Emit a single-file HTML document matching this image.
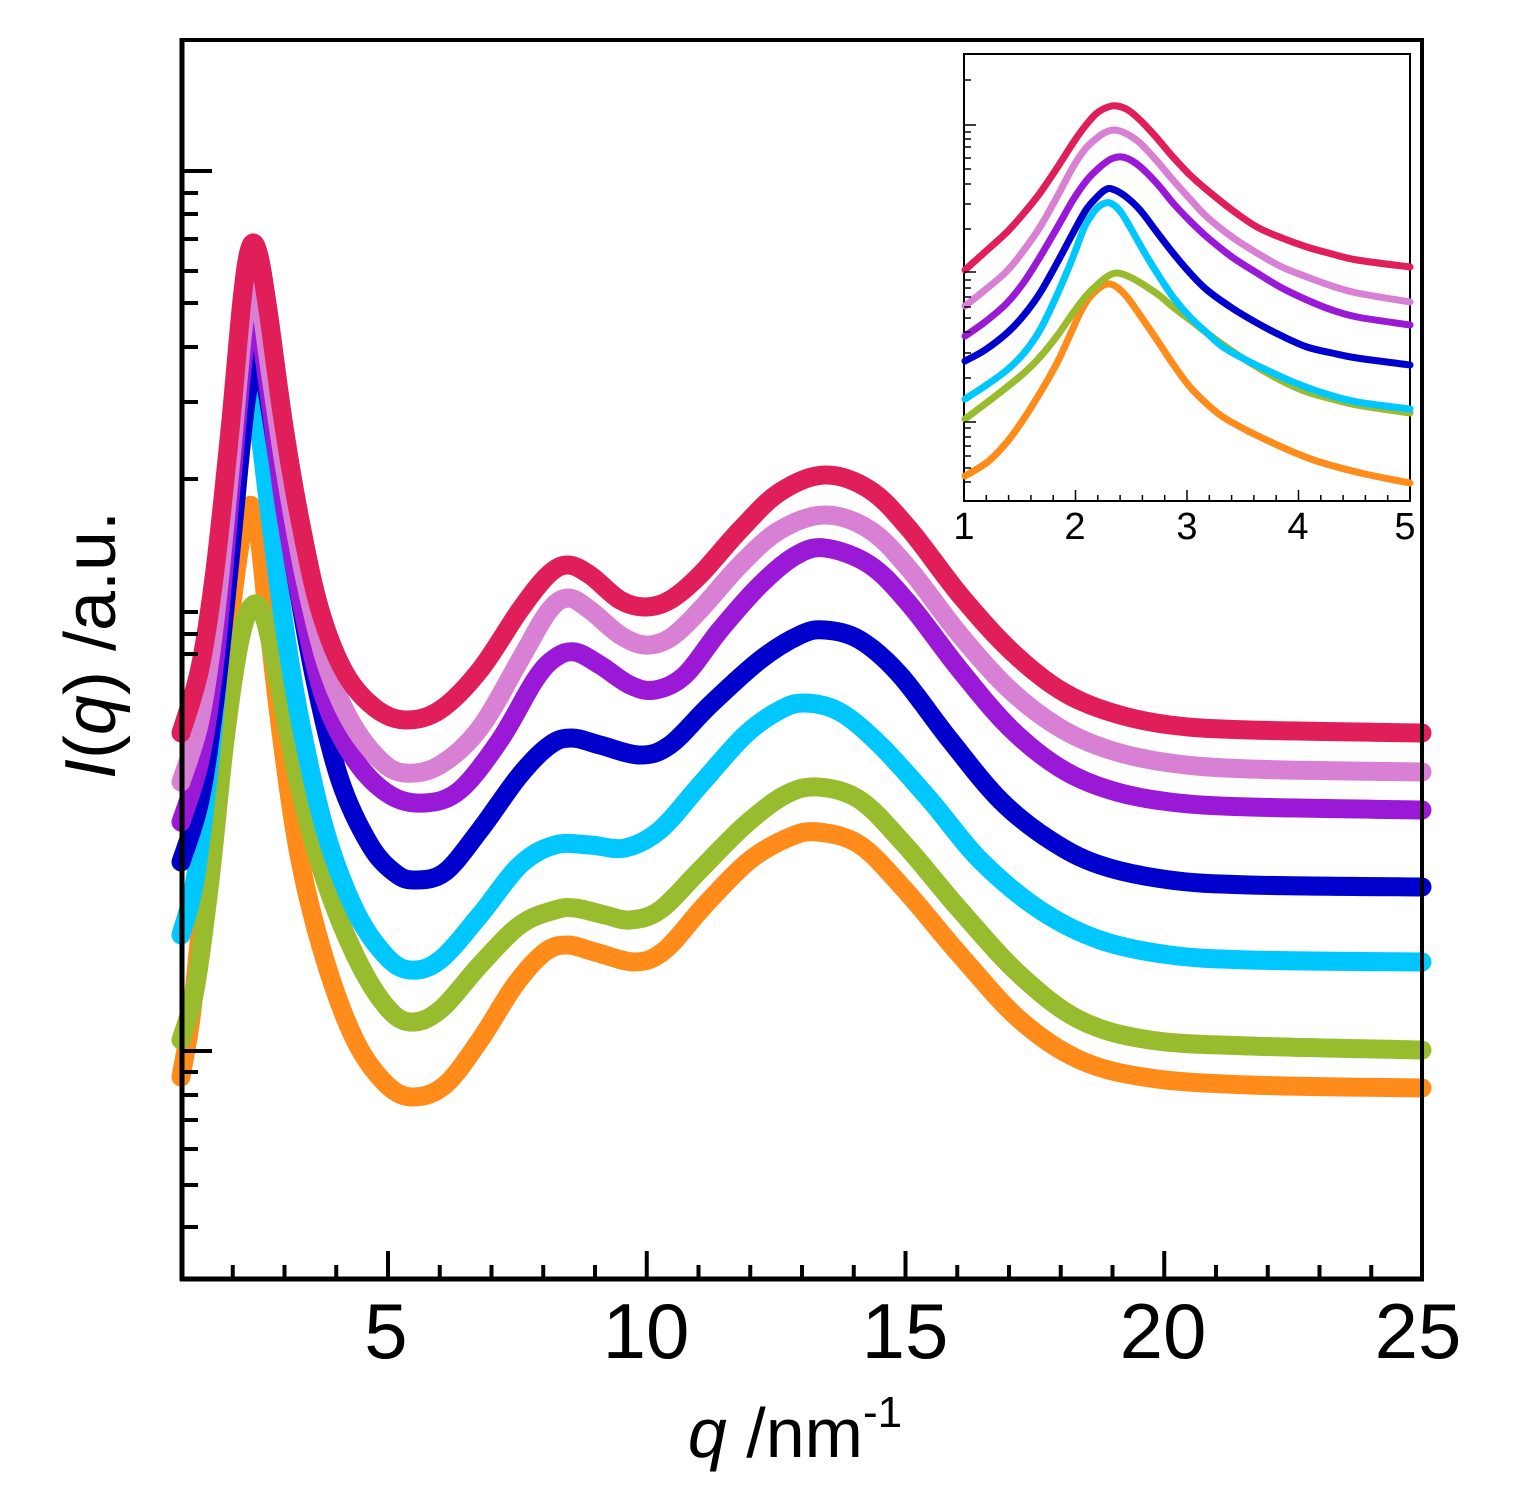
<!DOCTYPE html>
<html><head><meta charset="utf-8"><style>
html,body{margin:0;padding:0;background:#fff}
svg{display:block}
text{font-family:"Liberation Sans",Arial,sans-serif;fill:#000}
</style></head><body>
<svg id="s" width="1514" height="1500" viewBox="0 0 1514 1500" xmlns="http://www.w3.org/2000/svg">
<rect width="1514" height="1500" fill="#fff"/>
<g id="main" fill="none" stroke-linecap="round" stroke-linejoin="round" stroke-width="19"></g>
<g id="axes" stroke="#000" fill="none"></g>
<rect x="964" y="54" width="446" height="447" fill="#fff" stroke="#000" stroke-width="2"/>
<g id="inset" fill="none" stroke-linecap="round" stroke-linejoin="round" stroke-width="7"></g>
<g id="iax" stroke="#000" stroke-width="1.5" fill="none"></g>
<g font-size="78" text-anchor="middle">
<text x="386" y="1358">5</text>
<text x="646" y="1358">10</text>
<text x="905" y="1358">15</text>
<text x="1163" y="1358">20</text>
<text x="1418" y="1358">25</text>
</g>
<g font-size="38" text-anchor="middle">
<text x="964" y="539">1</text>
<text x="1075" y="539">2</text>
<text x="1187" y="539">3</text>
<text x="1298" y="539">4</text>
<text x="1405" y="539">5</text>
</g>
<text x="795" y="1457" font-size="70" text-anchor="middle"><tspan font-style="italic">q</tspan> /nm<tspan font-size="44" dy="-30">-1</tspan></text>
<text transform="translate(115,645) rotate(-90)" font-size="72" text-anchor="middle"><tspan font-style="italic">I</tspan>(<tspan font-style="italic">q</tspan>) /a.u.</text>
</svg>
<script>
function path(p){
 let d="M"+p[0][0]+","+p[0][1];
 for(let i=0;i<p.length-1;i++){
  const p0=p[i-1]||p[i],p1=p[i],p2=p[i+1],p3=p[i+2]||p2;
  const c1x=p1[0]+(p2[0]-p0[0])/6,c1y=p1[1]+(p2[1]-p0[1])/6;
  const c2x=p2[0]-(p3[0]-p1[0])/6,c2y=p2[1]-(p3[1]-p1[1])/6;
  d+=" C"+c1x.toFixed(1)+","+c1y.toFixed(1)+" "+c2x.toFixed(1)+","+c2y.toFixed(1)+" "+p2[0]+","+p2[1];
 }
 return d;
}
const NS="http://www.w3.org/2000/svg";
function add(g,d,c){const e=document.createElementNS(NS,"path");e.setAttribute("d",d);e.setAttribute("stroke",c);g.appendChild(e);}
function line(g,x1,y1,x2,y2,w){const e=document.createElementNS(NS,"line");e.setAttribute("x1",x1);e.setAttribute("y1",y1);e.setAttribute("x2",x2);e.setAttribute("y2",y2);e.setAttribute("stroke-width",w);g.appendChild(e);}
const C={red:"#E01E5A",pink:"#D880D4",purple:"#9A19D6",blue:"#0000CC",cyan:"#00C8FF",green:"#99BB2E",orange:"#FF8C1A"};
const M={
orange:[[181,1077],[192,1010],[205,880],[220,720],[235,580],[248,508],[258,530],[268,620],[282,740],[300,860],[325,960],[355,1040],[385,1083],[412,1097],[445,1085],[480,1040],[515,985],[545,952],[568,945],[595,952],[635,962],[665,950],[705,905],[750,860],[790,837],[818,832],[860,845],[905,890],[960,955],[1020,1020],[1080,1060],[1150,1078],[1250,1085],[1422,1088]],
green:[[181,1040],[195,990],[210,880],[225,740],[240,640],[253,605],[265,620],[280,690],[300,790],[325,880],[355,955],[385,1005],[410,1022],[440,1010],[480,965],[520,925],[555,910],[575,908],[605,915],[630,920],[660,910],[700,870],[745,825],[785,795],[818,787],[860,800],[905,845],[960,910],[1020,975],[1080,1020],[1150,1040],[1250,1046],[1422,1050]],
cyan:[[181,935],[195,880],[210,760],[225,600],[240,450],[250,395],[258,420],[268,500],[282,610],[300,720],[325,830],[355,910],[385,955],[410,970],[440,960],[480,915],[520,865],[555,845],[590,845],[625,848],[660,830],[700,785],[745,735],[780,710],[805,703],[840,712],[880,745],[930,800],[980,860],[1040,910],[1100,940],[1170,955],[1250,960],[1422,962]],
blue:[[181,862],[200,800],[215,700],[230,560],[245,410],[256,358],[265,380],[278,460],[295,570],[315,680],[340,780],[370,845],[395,873],[415,880],[445,872],[480,830],[520,775],[550,745],[572,738],[600,745],[640,755],[670,745],[710,705],[760,660],[800,635],[825,630],[860,640],[900,675],[950,740],[1000,800],[1050,840],[1100,865],[1170,880],[1250,885],[1422,887]],
purple:[[181,822],[200,760],[215,660],[230,500],[243,360],[252,308],[260,330],[270,400],[285,510],[303,610],[325,700],[355,760],[390,795],[425,803],[460,790],[500,740],[535,680],[555,658],[575,652],[600,665],[630,685],[655,690],[685,675],[720,630],[760,585],[795,556],[825,548],[870,565],[910,605],[960,670],[1010,728],[1060,768],[1110,790],[1170,802],[1250,807],[1422,810]],
pink:[[181,782],[200,720],[215,620],[230,470],[243,330],[252,278],[260,300],[270,370],[285,470],[303,570],[325,660],[350,720],[380,760],[405,773],[440,765],[480,728],[520,660],[548,612],[568,598],[590,610],[620,635],[645,645],[670,638],[700,610],[740,565],[780,530],[825,515],[870,530],[910,570],[960,635],[1010,690],[1060,728],[1110,750],[1170,763],[1250,769],[1422,772]],
red:[[181,733],[200,668],[215,570],[230,430],[242,300],[250,248],[258,252],[268,310],[283,420],[300,520],[320,610],[345,673],[375,708],[405,720],[440,710],[480,670],[520,610],[548,575],[568,565],[590,575],[620,600],[645,607],[670,600],[700,575],[740,530],[780,492],[825,475],[870,490],[910,530],[960,595],[1010,650],[1060,690],[1110,712],[1170,725],[1250,730],[1422,733]]
};
const g=document.getElementById("main");
for(const k of ["orange","green","cyan","blue","purple","pink","red"]) add(g,path(M[k]),C[k]);
const I={
red:[[965,270],[985,252],[1007,232],[1024,213],[1040,193],[1057,168],[1073,143],[1086,125],[1097,113],[1108,107],[1117,106],[1128,110],[1140,120],[1156,137],[1173,157],[1190,175],[1207,190],[1232,210],[1257,227],[1282,238],[1307,247],[1332,254],[1357,260],[1410,267]],
pink:[[965,306],[985,290],[1007,271],[1024,250],[1040,227],[1057,197],[1073,167],[1086,148],[1097,138],[1106,132],[1115,130],[1127,134],[1140,143],[1156,160],[1173,180],[1190,199],[1207,217],[1232,237],[1257,253],[1282,267],[1307,277],[1332,286],[1357,293],[1410,302]],
purple:[[965,336],[985,322],[1007,303],[1024,282],[1040,257],[1057,228],[1073,200],[1087,180],[1100,167],[1111,159],[1122,157],[1134,162],[1147,173],[1160,187],[1173,203],[1190,221],[1207,237],[1232,257],[1257,273],[1282,288],[1307,300],[1332,310],[1357,317],[1410,325]],
blue:[[965,361],[985,350],[1007,333],[1024,315],[1040,293],[1057,263],[1073,233],[1086,210],[1097,197],[1105,190],[1112,189],[1125,196],[1140,210],[1156,231],[1173,253],[1190,273],[1207,290],[1232,308],[1257,323],[1282,336],[1307,347],[1332,353],[1357,358],[1410,365]],
green:[[965,419],[985,404],[1007,387],[1024,373],[1040,357],[1057,336],[1073,313],[1086,296],[1097,285],[1108,276],[1118,273],[1132,278],[1147,287],[1160,296],[1173,307],[1190,320],[1207,333],[1232,351],[1257,367],[1282,381],[1307,392],[1332,399],[1357,405],[1410,413]],
cyan:[[965,399],[985,386],[1007,370],[1024,353],[1040,330],[1057,295],[1073,257],[1084,228],[1093,213],[1101,205],[1110,203],[1120,211],[1130,227],[1143,250],[1157,273],[1173,297],[1190,317],[1207,333],[1223,347],[1248,361],[1273,373],[1298,384],[1323,393],[1357,402],[1410,409]],
orange:[[965,476],[977,469],[990,460],[1007,442],[1023,420],[1040,393],[1057,363],[1070,335],[1080,313],[1089,298],[1097,290],[1104,285],[1110,284],[1118,288],[1127,297],[1142,318],[1157,340],[1173,364],[1190,387],[1207,404],[1223,417],[1248,431],[1273,443],[1298,454],[1323,463],[1365,474],[1410,483]]
};
const gi=document.getElementById("inset");
for(const k of ["orange","green","cyan","blue","purple","pink","red"]) add(gi,path(I[k]),C[k]);
const a=document.getElementById("axes");
line(a,182,38,182,1281,5);line(a,180,1279,1424,1279,5);
line(a,180,40,1424,40,4);line(a,1422,38,1422,1281,4);
for(let q=2;q<25;q++){const x=388+(q-5)*51.75;line(a,x,1279,x,q%5==0?1251:1265,4);}
const maj=[171,1051],minr=[193,214,239,271,303,347,402,479,612,634,654,1072,1095,1120,1149,1185,1227];
for(const y of maj)line(a,182,y,212,y,4);
for(const y of minr)line(a,182,y,198,y,4);
const b=document.getElementById("iax");
for(let i=1;i<20;i++){const x=964+i*22.3;line(b,x,501,x,i%5==0?490:495,1.5);}
for(const y of [125,272,422])line(b,964,y,976,y,1.5);
for(const y of [80,132,139,147,158,169,184,204,229,280,288,297,307,318,332,353,378,428,437,446,456,468,482])line(b,964,y,971,y,1.5);
</script>
</body></html>
